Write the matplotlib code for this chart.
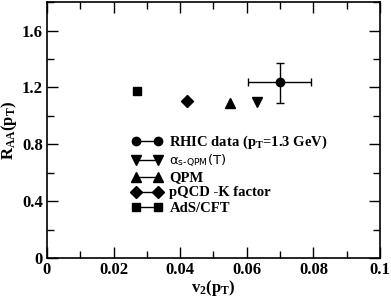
import matplotlib
matplotlib.use("Agg")
import matplotlib.pyplot as plt
from matplotlib.ticker import MultipleLocator

plt.rcParams['font.family'] = ['Liberation Serif', 'DejaVu Serif']
plt.rcParams['mathtext.fontset'] = 'custom'
plt.rcParams['mathtext.rm'] = 'Liberation Serif:bold'
plt.rcParams['mathtext.it'] = 'Liberation Serif:bold'
plt.rcParams['mathtext.bf'] = 'Liberation Serif:bold'
plt.rcParams['mathtext.sf'] = 'DejaVu Sans'

# data
rhic_v2 = [0.070]
rhic_raa = [1.235]
rhic_xerr = [[0.0095], [0.0092]]
rhic_yerr = [[0.145], [0.14]]

models = ["alpha", "QPM", "pQCD -K factor", "AdS/CFT"]
model_v2 = [0.063, 0.055, 0.042, 0.027]
model_raa = [1.095, 1.09, 1.105, 1.172]

labels = ["RHIC data (p$_\\mathregular{T}$=1.3 GeV)",
          "$\\mathsf{\\alpha}_{\\mathsf{s\u2010QPM}}$(T)",
          "QPM", "pQCD -K factor", "AdS/CFT"]

fig = plt.figure(figsize=(3.91, 2.97), dpi=100)
ax = fig.add_axes([0.120, 0.131, 0.852, 0.862])

ax.errorbar(rhic_v2, rhic_raa, xerr=rhic_xerr, yerr=rhic_yerr, fmt='o',
            color='black', ms=6, capsize=3, elinewidth=1, capthick=1)

markers = ['v', '^', 'D', 's']
sizes = [7, 7, 6, 6]
for m, s, x, y in zip(markers, sizes, model_v2, model_raa):
    ax.plot([x], [y], linestyle='none', marker=m, ms=s, color='black')

# legend proxies
handles = []
for m, s in zip(['o'] + markers, [6] + sizes):
    h, = ax.plot([], [], '-', marker=m, ms=s, color='black', lw=1)
    handles.append(h)

leg = ax.legend(handles, labels, loc='lower left', bbox_to_anchor=(0.255, 0.17),
                frameon=False, numpoints=2, handlelength=2.2, handletextpad=0.5,
                labelspacing=0.15, borderpad=0, borderaxespad=0)
for t in leg.get_texts():
    t.set_fontweight('bold')
    t.set_fontsize(10.5)
leg.get_texts()[1].set_fontweight('normal')
leg.get_texts()[1].set_family('DejaVu Sans')
leg.get_texts()[1].set_fontsize(9.5)

ax.set_xlim(0, 0.1)
ax.set_ylim(0, 1.8)
ax.xaxis.set_major_locator(MultipleLocator(0.02))
ax.xaxis.set_minor_locator(MultipleLocator(0.01))
ax.yaxis.set_major_locator(MultipleLocator(0.4))
ax.yaxis.set_minor_locator(MultipleLocator(0.2))
ax.tick_params(which='both', direction='in', top=True, right=True, width=1)
ax.tick_params(which='major', length=8)
ax.tick_params(which='minor', length=5)
ax.set_xticks([0, 0.02, 0.04, 0.06, 0.08, 0.1])
ax.set_xticklabels(['0', '0.02', '0.04', '0.06', '0.08', '0.1'])
ax.set_yticks([0, 0.4, 0.8, 1.2, 1.6])
ax.set_yticklabels(['0', '0.4', '0.8', '1.2', '1.6'])
for lab in ax.get_xticklabels() + ax.get_yticklabels():
    lab.set_fontweight('bold')
    lab.set_fontsize(12)
ax.tick_params(axis='x', pad=3)
ax.tick_params(axis='y', pad=3)
for sp in ax.spines.values():
    sp.set_linewidth(1.2)

ax.set_xlabel("v$_2$(p$_\\mathregular{T}$)", fontsize=12, fontweight='bold', labelpad=0)
ax.set_ylabel("R$_{\\mathregular{AA}}$(p$_\\mathregular{T}$)", fontsize=12, fontweight='bold', labelpad=2)

fig.savefig("out.png", dpi=100)
